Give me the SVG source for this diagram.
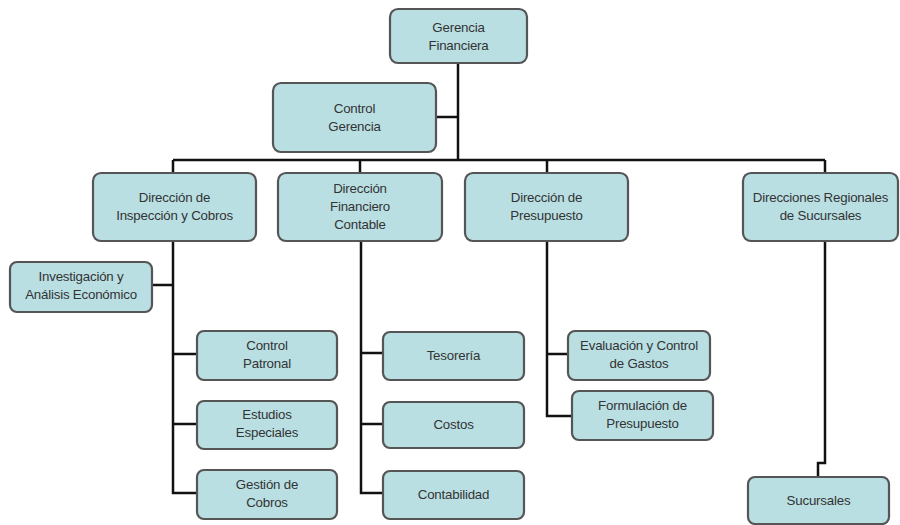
<svg xmlns="http://www.w3.org/2000/svg" width="900" height="525" viewBox="0 0 900 525">
<style>
.n rect{fill:#b9dfe3;stroke:#555;stroke-width:2.2}
.n text{font-family:"Liberation Sans",Arial,sans-serif;font-size:13.3px;fill:#333;text-anchor:middle;letter-spacing:-0.2px}
.c path{fill:none;stroke:#111;stroke-width:2.5}
</style>
<rect width="900" height="525" fill="#fff"/>
<g class="c" id="connectors">
<path d="M458 63V160"/>
<path d="M436 117H458"/>
<path d="M173 160H825"/>
<path d="M173 160V173M360 160V173M547 160V173M825 160V173"/>
<path d="M173 241V493H197M152 285H173M173 354H197M173 424H197"/>
<path d="M361 241V493H383M361 353H383M361 424H383"/>
<path d="M547 241V416H572M547 354H568"/>
<path d="M825 241V463H818V477"/>
</g>
<g class="n" id="gerencia-financiera"><rect x="390" y="9" width="137" height="54" rx="8"/><text x="458.5" y="32">Gerencia</text><text x="458.5" y="50">Financiera</text></g>
<g class="n" id="control-gerencia"><rect x="273" y="83" width="163" height="69" rx="8"/><text x="354.5" y="113">Control</text><text x="354.5" y="131">Gerencia</text></g>
<g class="n" id="dir-inspeccion"><rect x="93" y="173" width="163" height="68" rx="8"/><text x="174.5" y="202">Dirección de</text><text x="174.5" y="220">Inspección y Cobros</text></g>
<g class="n" id="dir-financiero"><rect x="278" y="173" width="164" height="68" rx="8"/><text x="360" y="193">Dirección</text><text x="360" y="211">Financiero</text><text x="360" y="229">Contable</text></g>
<g class="n" id="dir-presupuesto"><rect x="465" y="173" width="163" height="68" rx="8"/><text x="546.5" y="202">Dirección de</text><text x="546.5" y="220">Presupuesto</text></g>
<g class="n" id="dir-regionales"><rect x="743" y="173" width="155" height="68" rx="8"/><text x="820.5" y="202">Direcciones Regionales</text><text x="820.5" y="220">de Sucursales</text></g>
<g class="n" id="investigacion"><rect x="10" y="262" width="142" height="50" rx="7"/><text x="81" y="281">Investigación y</text><text x="81" y="299">Análisis Económico</text></g>
<g class="n" id="control-patronal"><rect x="197" y="331" width="140" height="49" rx="7"/><text x="267" y="350">Control</text><text x="267" y="368">Patronal</text></g>
<g class="n" id="estudios-especiales"><rect x="197" y="401" width="140" height="48" rx="7"/><text x="267" y="419">Estudios</text><text x="267" y="437">Especiales</text></g>
<g class="n" id="gestion-cobros"><rect x="197" y="470" width="140" height="49" rx="7"/><text x="267" y="489">Gestión de</text><text x="267" y="507">Cobros</text></g>
<g class="n" id="tesoreria"><rect x="383" y="332" width="141" height="48" rx="7"/><text x="453.5" y="360">Tesorería</text></g>
<g class="n" id="costos"><rect x="383" y="402" width="141" height="46" rx="7"/><text x="453.5" y="429">Costos</text></g>
<g class="n" id="contabilidad"><rect x="383" y="471" width="141" height="48" rx="7"/><text x="453.5" y="499">Contabilidad</text></g>
<g class="n" id="evaluacion"><rect x="568" y="331" width="142" height="49" rx="7"/><text x="639" y="350">Evaluación y Control</text><text x="639" y="368">de Gastos</text></g>
<g class="n" id="formulacion"><rect x="572" y="391" width="141" height="49" rx="7"/><text x="642.5" y="410">Formulación de</text><text x="642.5" y="428">Presupuesto</text></g>
<g class="n" id="sucursales"><rect x="748" y="477" width="141" height="47" rx="7"/><text x="818.5" y="505">Sucursales</text></g>
</svg>
